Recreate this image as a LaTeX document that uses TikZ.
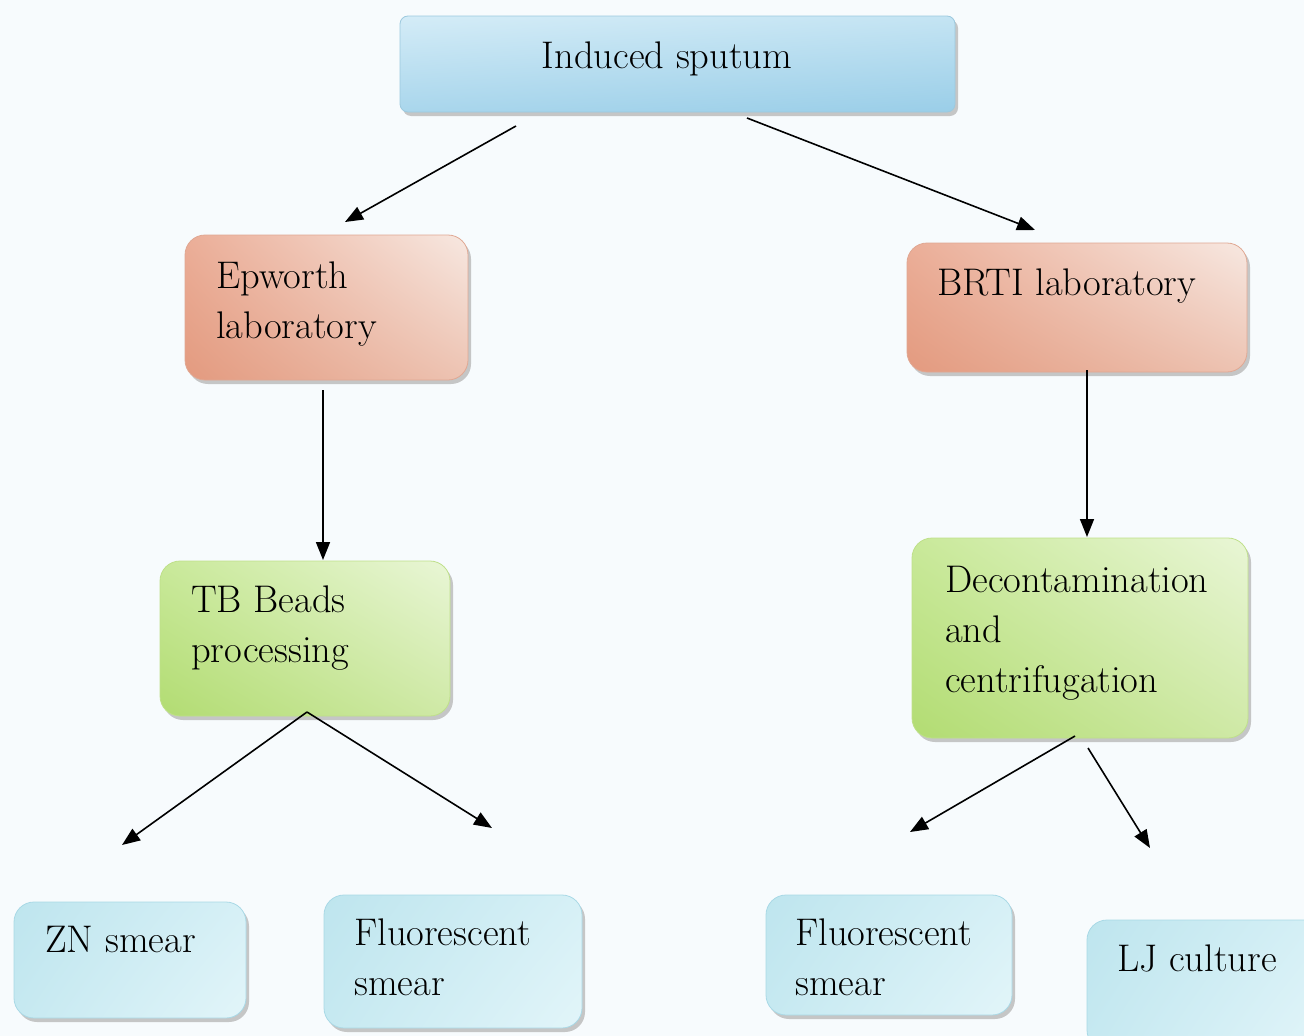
\documentclass[tikz,border=0pt]{standalone}
\usetikzlibrary{shadows,shadings,arrows.meta}
\definecolor{bg}{HTML}{F7FBFD}
\definecolor{bB}{HTML}{9CC9DE}\definecolor{bUL}{HTML}{D4ECF7}\definecolor{bUR}{HTML}{C4E4F3}\definecolor{bLL}{HTML}{A9D6EC}\definecolor{bLR}{HTML}{9ACEE8}
\definecolor{sB}{HTML}{E0A893}\definecolor{sUL}{HTML}{EBAE98}\definecolor{sUR}{HTML}{F7E8E1}\definecolor{sLL}{HTML}{E39A7F}\definecolor{sLR}{HTML}{EDC3B2}
\definecolor{gB}{HTML}{BFE08A}\definecolor{gUL}{HTML}{C9E99A}\definecolor{gUR}{HTML}{E9F6D6}\definecolor{gLL}{HTML}{B2DC72}\definecolor{gLR}{HTML}{CFE9A6}
\definecolor{lB}{HTML}{A9D9E6}\definecolor{lUL}{HTML}{BEE5EE}\definecolor{lUR}{HTML}{D6F0F6}\definecolor{lLL}{HTML}{C6E9F1}\definecolor{lLR}{HTML}{E2F5F9}
\tikzset{
  box/.style={rectangle, inner sep=0pt, outer sep=0pt, anchor=north west, rounded corners=20pt,
    line width=0.8pt, drop shadow={shadow xshift=3pt, shadow yshift=-4pt, fill=gray!55, opacity=0.8}},
  bluebox/.style={box, rounded corners=8pt, draw=bB, upper left=bUL, upper right=bUR, lower left=bLL, lower right=bLR},
  salbox/.style={box, draw=sB, upper left=sUL, upper right=sUR, lower left=sLL, lower right=sLR},
  grnbox/.style={box, draw=gB, upper left=gUL, upper right=gUR, lower left=gLL, lower right=gLR},
  ltbox/.style={box, draw=lB, upper left=lUL, upper right=lUR, lower left=lLL, lower right=lLR},
  txt/.style={anchor=base west, inner sep=0pt, align=left, font=\fontsize{38.5}{50}\selectfont},
  arr/.style={line width=1.6pt, -{Triangle[length=18pt,width=14pt]}}
}
\begin{document}
\begin{tikzpicture}[x=1pt,y=-1pt]
\useasboundingbox (0,0) rectangle (1304,1036);
\fill[bg] (0,0) rectangle (1304,1036);

% boxes
\node[bluebox, minimum width=555pt, minimum height=96pt] (ind) at (400,16) {};
\node[salbox, minimum width=283pt, minimum height=145pt] (epw) at (185,235) {};
\node[salbox, minimum width=340pt, minimum height=129pt] (brti) at (907,243) {};
\node[grnbox, minimum width=290pt, minimum height=155pt] (tbb) at (160,561) {};
\node[grnbox, minimum width=336pt, minimum height=200pt] (dec) at (912,538) {};
\node[ltbox, minimum width=232pt, minimum height=116pt] (zn) at (14,902) {};
\node[ltbox, minimum width=258pt, minimum height=133pt] (fl1) at (324,895) {};
\node[ltbox, minimum width=246pt, minimum height=120pt] (fl2) at (766,895) {};
\node[ltbox, minimum width=240pt, minimum height=130pt] (lj) at (1087,920) {};

% texts (base = baseline of the last line)
\node[txt, anchor=base] (t-ind) at (667,68) {Induced sputum};
\node[txt] (t-epw) at (216,338) {Epworth\\laboratory};
\node[txt] (t-brti) at (937,295) {BRTI laboratory};
\node[txt] (t-tbb) at (191,662) {TB Beads\\processing};
\node[txt] (t-dec) at (945,692) {Decontamination\\and\\centrifugation};
\node[txt] (t-zn) at (45,952) {ZN smear};
\node[txt] (t-fl1) at (354,995) {Fluorescent\\smear};
\node[txt] (t-fl2) at (795,995) {Fluorescent\\smear};
\node[txt] (t-lj) at (1117,971) {LJ culture};

% connector end points
\coordinate (a1s) at (516,126); \coordinate (a1e) at (345,222);
\coordinate (a2s) at (747,118); \coordinate (a2e) at (1035,230);
\coordinate (a3s) at (323,390); \coordinate (a3e) at (323,560);
\coordinate (a4s) at (1087,370); \coordinate (a4e) at (1087,537);
\coordinate (a5s) at (307,712); \coordinate (a5e) at (122,845);
\coordinate (a6e) at (492,828);
\coordinate (a7s) at (1075,736); \coordinate (a7e) at (910,832);
\coordinate (a8s) at (1088,748); \coordinate (a8e) at (1150,848);

\draw[arr] (a1s) -- (a1e);
\draw[arr] (a2s) -- (a2e);
\draw[arr] (a3s) -- (a3e);
\draw[arr] (a4s) -- (a4e);
\draw[arr] (a5s) -- (a5e);
\draw[arr] (a5s) -- (a6e);
\draw[arr] (a7s) -- (a7e);
\draw[arr] (a8s) -- (a8e);
\end{tikzpicture}
\end{document}
